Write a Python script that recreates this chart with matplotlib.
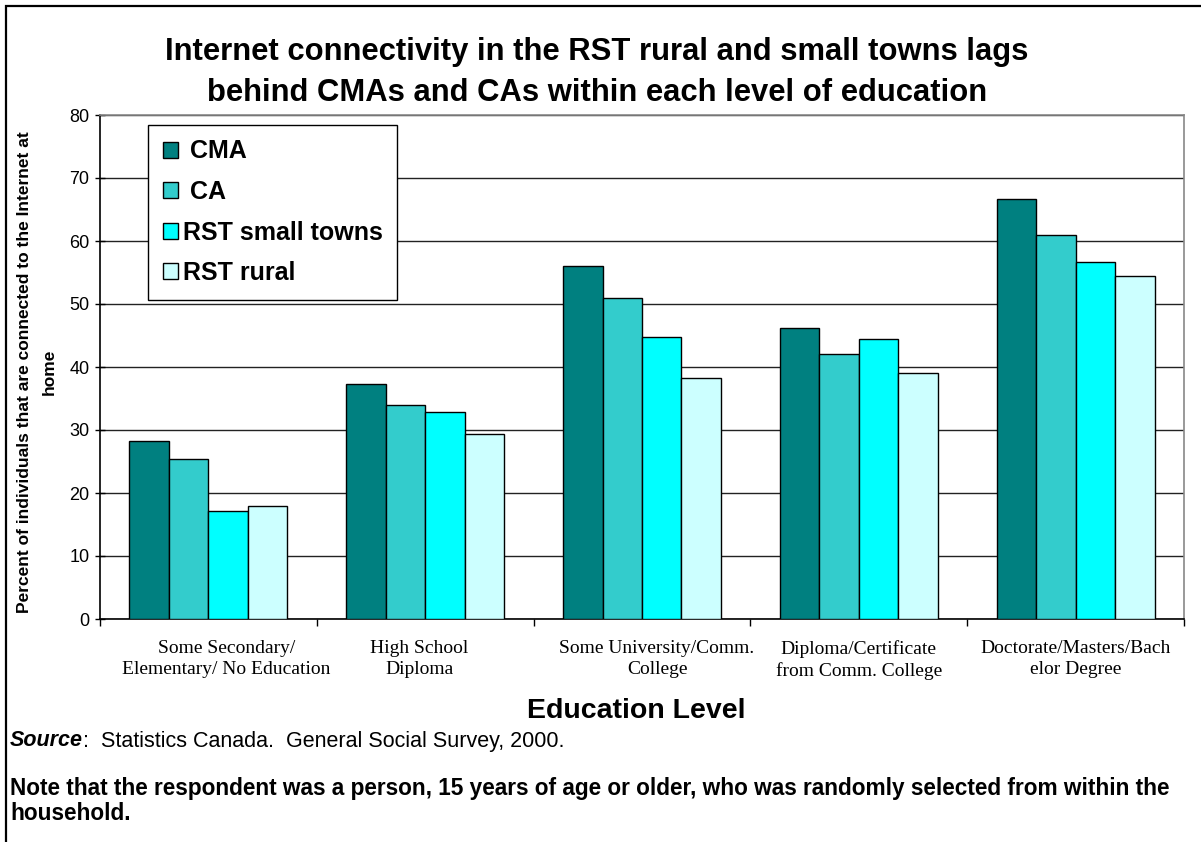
import matplotlib
matplotlib.use("Agg")
import matplotlib.pyplot as plt
import matplotlib.transforms as mtransforms
import numpy as np
from matplotlib.patches import Rectangle

categories = ["Some Secondary/\nElementary/ No Education", "High School\nDiploma",
              "Some University/Comm.\nCollege", "Diploma/Certificate\nfrom Comm. College",
              "Doctorate/Masters/Bach\nelor Degree"]
series_names = ["CMA", "CA", "RST small towns", "RST rural"]
cma = [28.2, 37.3, 56.0, 46.2, 66.7]
ca = [25.4, 34.0, 50.9, 42.0, 61.0]
rst_small = [17.1, 32.9, 44.8, 44.4, 56.6]
rst_rural = [18.0, 29.3, 38.3, 39.0, 54.5]
yticks = [0, 10, 20, 30, 40, 50, 60, 70, 80]

colors = ["#008080", "#33CCCC", "#00FFFF", "#CCFFFF"]
W, H = 1201, 842
SANS = "Liberation Sans"
fig = plt.figure(figsize=(W / 100, H / 100), dpi=100)
fig.patches.append(Rectangle((6 / W, -0.01), 1.02, 1 - 6 / H + 0.01, transform=fig.transFigure,
                             fill=False, edgecolor="black", linewidth=1.6))

ax = fig.add_axes([100 / W, 1 - 619 / H, (1184 - 100) / W, (619 - 115) / H])
x = np.arange(len(categories))
bw = 0.182
data = [cma, ca, rst_small, rst_rural]
for i, (vals, c, name) in enumerate(zip(data, colors, series_names)):
    ax.bar(x + (i - 1.5) * bw, vals, width=bw, color=c, edgecolor="black", linewidth=1.0,
           label=name, zorder=3)

ax.set_xlim(-0.5, len(categories) - 0.5)
ax.set_ylim(0, 80)
ax.set_yticks(yticks)
ax.yaxis.grid(True, color="#222222", linewidth=1.0, zorder=0)
ax.set_axisbelow(True)
ax.tick_params(axis="y", direction="inout", length=7, width=1, labelsize=13, pad=4)
ax.set_yticklabels([str(v) for v in yticks], fontfamily=SANS)
ax.set_xticks(np.arange(len(categories) + 1) - 0.5, minor=True)
ax.set_xticks(x)
ax.set_xticklabels(categories, fontfamily="Liberation Serif", fontsize=14, linespacing=1.3)
ax.tick_params(axis="x", which="major", length=0, pad=15)
ax.tick_params(axis="x", which="minor", direction="out", length=5, width=1)
# small horizontal nudges of the wrapped category labels, as in the original layout
nudges = [18, -6, 15, 0, 0]
for lab, dx in zip(ax.get_xticklabels(), nudges):
    lab.set_transform(lab.get_transform() + mtransforms.ScaledTranslation(dx / 100, 0, fig.dpi_scale_trans))
for s in ["left", "bottom"]:
    ax.spines[s].set_color("black")
    ax.spines[s].set_linewidth(1.2)
for s in ["right", "top"]:
    ax.spines[s].set_color("#888888")
    ax.spines[s].set_linewidth(1.2)

leg = ax.legend(labels=[" CMA", " CA", "RST small towns", "RST rural"],
                loc="upper left", bbox_to_anchor=((148 - 100) / (1184 - 100), 1 - (125 - 115) / (619 - 115)),
                prop={"family": SANS, "weight": "bold", "size": 18},
                frameon=True, fancybox=False, edgecolor="black", framealpha=1,
                handlelength=0.62, handleheight=0.62, handletextpad=0.2,
                labelspacing=0.66, borderpad=0.58, borderaxespad=0)
leg.get_frame().set_linewidth(1.0)
leg.set_zorder(5)

fig.text(597 / W, 1 - 52 / H, "Internet connectivity in the RST rural and small towns lags",
         ha="center", va="center", fontsize=22.3, fontweight="bold", fontfamily=SANS)
fig.text(597 / W, 1 - 93 / H, "behind CMAs and CAs within each level of education",
         ha="center", va="center", fontsize=22.3, fontweight="bold", fontfamily=SANS)

fig.text(37 / W, 1 - 372 / H, "Percent of individuals that are connected to the Internet at\nhome",
         rotation=90, ha="center", va="center", multialignment="center", fontsize=12.5,
         fontweight="bold", fontfamily=SANS, linespacing=1.85)

fig.text(636 / W, 1 - 711 / H, "Education Level", ha="center", va="center", fontsize=20.5,
         fontweight="bold", fontfamily=SANS)

t = fig.text(10 / W, 1 - 741 / H, "Source", ha="left", va="center", fontsize=15.5,
             fontweight="bold", fontstyle="italic", fontfamily=SANS)
fig.canvas.draw()
bb = t.get_window_extent()
fig.text(bb.x1 / W, 1 - 741 / H, ":  Statistics Canada.  General Social Survey, 2000.",
         ha="left", va="center", fontsize=15.5, fontfamily=SANS)
fig.text(10 / W, 1 - 788 / H,
         "Note that the respondent was a person, 15 years of age or older, who was randomly selected from within the",
         ha="left", va="center", fontsize=16.3, fontweight="bold", fontfamily=SANS)
fig.text(10 / W, 1 - 813 / H, "household.", ha="left", va="center", fontsize=16.3,
         fontweight="bold", fontfamily=SANS)

fig.savefig("out.png", dpi=100)
